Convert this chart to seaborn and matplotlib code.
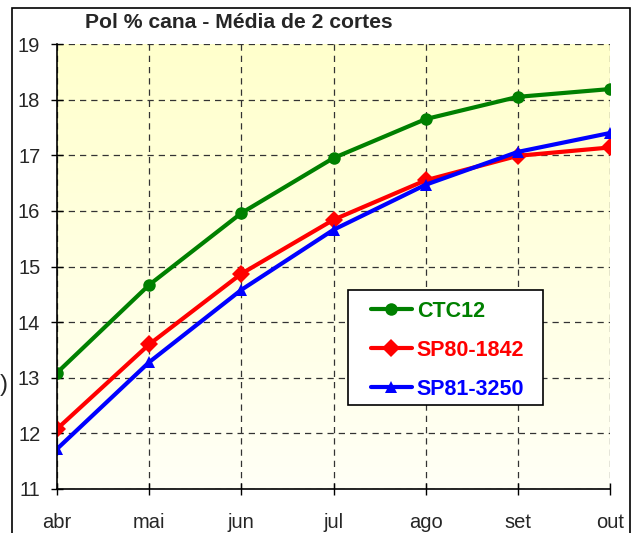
import numpy as np
import pandas as pd
import matplotlib
matplotlib.use("Agg")
import matplotlib.pyplot as plt
import matplotlib.patches as mpatches
import seaborn as sns

meses = ["abr", "mai", "jun", "jul", "ago", "set", "out"]
ctc12 = [13.09, 14.67, 15.96, 16.95, 17.65, 18.05, 18.19]
sp80_1842 = [12.08, 13.60, 14.87, 15.84, 16.55, 16.99, 17.14]
sp81_3250 = [11.72, 13.28, 14.58, 15.66, 16.47, 17.06, 17.40]

series = ["CTC12", "SP80-1842", "SP81-3250"]
cores = ["#008000", "#FF0000", "#0000FF"]
marcadores = ["o", "D", "^"]

df = pd.DataFrame({"mes": meses, "CTC12": ctc12,
                   "SP80-1842": sp80_1842, "SP81-3250": sp81_3250})
df["pos"] = range(len(meses))
long_df = df.melt(id_vars=["mes", "pos"], value_vars=series,
                  var_name="variedade", value_name="pol")

sns.set_style("white")
plt.rcParams["font.family"] = ["Liberation Sans", "DejaVu Sans"]

fig = plt.figure(figsize=(6.36, 5.33), dpi=100)
ax = fig.add_axes([57 / 636, 44 / 533, 553 / 636, 445 / 533])

# fundo em degradê amarelo -> quase branco
grad = np.linspace(0, 1, 256).reshape(-1, 1)
cmap = matplotlib.colors.LinearSegmentedColormap.from_list(
    "fundo", ["#FFFFF6", "#FFFFCC"])
ax.imshow(grad, extent=[0, 6, 11, 19], origin="lower", aspect="auto",
          cmap=cmap, zorder=0)

sns.lineplot(data=long_df, x="pos", y="pol", hue="variedade", style="variedade",
             palette=dict(zip(series, cores)),
             markers=dict(zip(series, marcadores)), dashes=False,
             linewidth=3, markersize=9, markeredgewidth=0, ax=ax, zorder=3)

ax.set_xlim(0, 6)
ax.set_ylim(11, 19)
ax.set_xticks(range(len(meses)))
ax.set_xticklabels(meses)
ax.set_yticks(range(11, 20))
ax.set_xlabel("")
ax.set_ylabel("")
ax.tick_params(axis="both", direction="inout", length=8, width=1,
               labelsize=14.5, color="black", bottom=True, left=True)
ax.tick_params(axis="x", pad=13)
ax.tick_params(axis="y", pad=8)
ax.grid(True, color="#333333", linestyle=(0, (5, 4)), linewidth=0.9)
for s in ["top", "right"]:
    ax.spines[s].set_visible(False)
for s in ["left", "bottom"]:
    ax.spines[s].set_color("black")
    ax.spines[s].set_linewidth(1.2)
    ax.spines[s].set_zorder(4)
for gl in ax.get_xgridlines() + ax.get_ygridlines():
    gl.set_zorder(1)

# caixa da legenda
caixa = mpatches.Rectangle(((348 - 57) / 553, (489 - 405) / 445),
                           195 / 553, 115 / 445, transform=ax.transAxes,
                           facecolor="white", edgecolor="black",
                           linewidth=1.2, zorder=5)
ax.add_patch(caixa)
leg = ax.legend(loc="upper left",
                bbox_to_anchor=((371 - 57) / 553, (489 - 301) / 445),
                borderaxespad=0, borderpad=0, frameon=False,
                fontsize=15.5, handlelength=1.9,
                labelspacing=0.83, handletextpad=0.23)
leg.set_zorder(6)
for txt, cor in zip(leg.get_texts(), cores):
    txt.set_color(cor)
    txt.set_fontweight("bold")

fig.text(239 / 636, 1 - 22 / 533, "Pol % cana - Média de 2 cortes",
         ha="center", va="center", fontsize=15.2, fontweight="bold")
fig.text(0 / 636, 1 - 385 / 533, ")", ha="left", va="center", fontsize=17)

borda = mpatches.Rectangle((12 / 636, -0.1), 618 / 636, 1 - 8 / 533 + 0.1,
                           transform=fig.transFigure, fill=False,
                           edgecolor="black", linewidth=1.2)
fig.patches.append(borda)

fig.savefig("out.png", dpi=100)
